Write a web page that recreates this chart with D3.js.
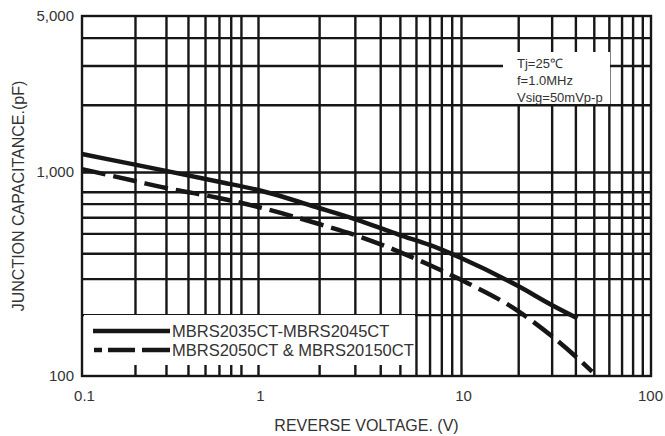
<!DOCTYPE html>
<html>
<head>
<meta charset="utf-8">
<script src="https://cdn.jsdelivr.net/npm/d3@7"></script>
<style>
  html, body { margin: 0; padding: 0; background: #fff; }
  svg { display: block; }
  text { font-family: "Liberation Sans", Arial, Helvetica, sans-serif; }
</style>
</head>
<body>
<svg id="chart" width="665" height="436"></svg>
<script>
// ---- data ----
const xMajor = [0.1, 1, 10, 100];
const xMajorLabels = ["0.1", "1", "10", "100"];
const yMajor = [100, 1000, 5000];
const yMajorLabels = ["100", "1,000", "5,000"];
const xGrid = [0.2, 0.3, 0.4, 0.5, 0.6, 0.7, 0.8, 1, 2, 3, 4, 5, 6, 7, 8, 9, 10, 20, 30, 40, 50, 60, 70, 80, 90];
const yGrid = [200, 300, 400, 500, 600, 700, 800, 1000, 2000, 3000, 4000];

const seriesNames = ["MBRS2035CT-MBRS2045CT", "MBRS2050CT & MBRS20150CT"];
const voltsA = [0.1, 0.2, 0.3, 0.6, 1, 2, 3, 5, 7, 10, 20, 30, 41];
const capA   = [1204, 1079, 1012, 896, 816, 666, 588, 491, 439, 379, 276, 223, 192];
const voltsB = [0.1, 0.2, 0.3, 0.6, 1, 2, 3, 5, 7, 10, 20, 30, 40, 49];
const capB   = [1030, 903, 835, 746, 674, 556, 491, 405, 350, 296, 208, 157, 125, 105];

const noteLines = ["Tj=25\u2103", "f=1.0MHz", "Vsig=50mVp-p"];
const xTitle = "REVERSE VOLTAGE. (V)";
const yTitle = "JUNCTION CAPACITANCE.(pF)";

// ---- layout ----
const L = 82, R = 651, T = 16, B = 376;
const svg = d3.select("#chart");
const ink = "#161616";
const textCol = "#333";

// printed log grid is slightly uneven per decade -> piecewise log scales
const x = d3.scaleLog().domain([0.1, 1, 10, 100]).range([L, 258, 461, R]);
const y = d3.scaleLog().domain([100, 1000, 5000]).range([B, 172, T]);

// grid via axes
svg.append("g")
  .attr("transform", `translate(0,${B})`)
  .call(d3.axisBottom(x).tickValues(xGrid).tickSize(-(B - T)).tickFormat(""))
  .call(g => g.select(".domain").remove())
  .call(g => g.selectAll("line").attr("stroke", ink).attr("stroke-width", 2.4));

svg.append("g")
  .attr("transform", `translate(${L},0)`)
  .call(d3.axisLeft(y).tickValues(yGrid).tickSize(-(R - L)).tickFormat(""))
  .call(g => g.select(".domain").remove())
  .call(g => g.selectAll("line").attr("stroke", ink).attr("stroke-width", 2.4));

// white box behind the note
svg.append("rect")
  .attr("x", 503).attr("y", 52).attr("width", 107).attr("height", 52)
  .attr("fill", "#fff");

// white box behind the legend
svg.append("rect")
  .attr("x", L + 2).attr("y", 315).attr("width", 331).attr("height", 50)
  .attr("fill", "#fff");

// frame
svg.append("rect")
  .attr("x", L).attr("y", T).attr("width", R - L).attr("height", B - T)
  .attr("fill", "none").attr("stroke", ink).attr("stroke-width", 2.4);

// curves
const line = d3.line()
  .x(d => x(d[0]))
  .y(d => y(d[1]))
  .curve(d3.curveMonotoneX);

svg.append("path")
  .datum(voltsA.map((v, i) => [v, capA[i]]))
  .attr("d", line)
  .attr("fill", "none").attr("stroke", ink).attr("stroke-width", 4.5);

svg.append("path")
  .datum(voltsB.map((v, i) => [v, capB[i]]))
  .attr("d", line)
  .attr("fill", "none").attr("stroke", ink).attr("stroke-width", 4.5)
  .attr("stroke-dasharray", "24,8");

// legend
const lg = svg.append("g");
lg.append("line").attr("x1", 93).attr("x2", 170).attr("y1", 331).attr("y2", 331)
  .attr("stroke", ink).attr("stroke-width", 4.5);
lg.append("line").attr("x1", 94).attr("x2", 170).attr("y1", 350).attr("y2", 350)
  .attr("stroke", ink).attr("stroke-width", 4.5)
  .attr("stroke-dasharray", "8,6,27,7,28");
lg.selectAll("text.leg").data(seriesNames).join("text")
  .attr("class", "leg")
  .attr("x", 172).attr("y", (d, i) => 331 + i * 19).attr("dy", "0.35em")
  .attr("font-size", 16.5).attr("fill", textCol)
  .text(d => d);

// tick labels via axes
svg.append("g")
  .attr("transform", `translate(0,${B})`)
  .call(d3.axisBottom(x).tickValues(xMajor).tickSize(0).tickPadding(14)
        .tickFormat((d, i) => xMajorLabels[i]))
  .call(g => g.select(".domain").remove())
  .call(g => g.selectAll("text").attr("font-size", 15).attr("fill", textCol)
        .attr("font-family", "Liberation Sans, Arial, sans-serif")
        .attr("dx", (d, i) => i === xMajor.length - 1 ? -1 : 2));

svg.append("g")
  .attr("transform", `translate(${L},0)`)
  .call(d3.axisLeft(y).tickValues(yMajor).tickSize(0).tickPadding(8)
        .tickFormat((d, i) => yMajorLabels[i]))
  .call(g => g.select(".domain").remove())
  .call(g => g.selectAll("text").attr("font-size", 15).attr("fill", textCol)
        .attr("font-family", "Liberation Sans, Arial, sans-serif"));

// axis titles
svg.append("text")
  .attr("x", (L + R) / 2).attr("y", 425).attr("dy", "0.35em")
  .attr("text-anchor", "middle").attr("font-size", 16).attr("fill", textCol)
  .text(xTitle);

svg.append("text")
  .attr("transform", `translate(18,${(T + B) / 2}) rotate(-90)`)
  .attr("dy", "0.35em")
  .attr("text-anchor", "middle").attr("font-size", 16).attr("fill", textCol)
  .text(yTitle);

// note
svg.selectAll("text.note").data(noteLines).join("text")
  .attr("class", "note")
  .attr("x", 517).attr("y", (d, i) => 63 + i * 17).attr("dy", "0.35em")
  .attr("font-size", 13).attr("fill", textCol)
  .text(d => d);
</script>
</body>
</html>
